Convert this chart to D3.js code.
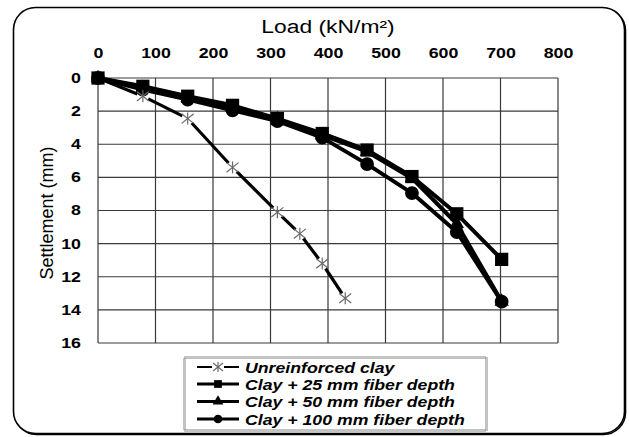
<!DOCTYPE html>
<html>
<head>
<meta charset="utf-8">
<script src="https://cdn.jsdelivr.net/npm/d3@7"></script>
<style>
  html, body { margin: 0; padding: 0; background: #fff; }
  svg { display: block; font-family: "Liberation Sans", Arial, sans-serif; }
</style>
</head>
<body>
<svg id="chart" width="629" height="437"></svg>
<script>
// Load (kN/m2) at each reading
const loads = [0, 78, 156, 234, 312, 390, 468, 546, 624, 702];
const loadsUnreinforced = [0, 78, 156, 234, 312, 351, 390, 430];

// Settlement (mm) for each test series
const settleUnreinforced = [0, 1.1, 2.45, 5.4, 8.1, 9.4, 11.2, 13.3];
const settle25 = [0, 0.5, 1.1, 1.65, 2.45, 3.35, 4.35, 5.95, 8.2, 10.95];
const settle50 = [0, 0.6, 1.2, 1.8, 2.5, 3.45, 4.45, 6.05, 8.8, 13.5];
const settle100 = [0, 0.7, 1.3, 1.95, 2.6, 3.6, 5.2, 6.95, 9.3, 13.5];

const seriesNames = [
  "Unreinforced clay",
  "Clay + 25 mm fiber depth",
  "Clay + 50 mm fiber depth",
  "Clay + 100 mm fiber depth"
];

const xTicks = [0, 100, 200, 300, 400, 500, 600, 700, 800];
const yTicks = [0, 2, 4, 6, 8, 10, 12, 14, 16];

// the lettering is set wide: glyphs are stretched horizontally
const WIDE = 1.27;
function widen(sel, f) {
  sel.each(function () {
    const w = this.getComputedTextLength();
    d3.select(this).attr("textLength", w * f).attr("lengthAdjust", "spacingAndGlyphs");
  });
}

const svg = d3.select("#chart");

const x = d3.scaleLinear().domain([0, 800]).range([98, 558]);
const y = d3.scaleLinear().domain([0, 16]).range([78, 343]);

// outer rounded frame with a slightly heavier lower-right edge
svg.append("rect")
  .attr("x", 14.5).attr("y", 8.5)
  .attr("width", 611).attr("height", 426)
  .attr("rx", 22).attr("ry", 22)
  .attr("fill", "none").attr("stroke", "#000").attr("stroke-width", 1.6);
svg.append("rect")
  .attr("x", 13.5).attr("y", 7.5)
  .attr("width", 611).attr("height", 426)
  .attr("rx", 22).attr("ry", 22)
  .attr("fill", "#fff").attr("stroke", "#000").attr("stroke-width", 1.6);

// grid
const grid = svg.append("g").attr("stroke", "#3a3a3a").attr("stroke-width", 1.2);
grid.selectAll("line.v").data(xTicks).join("line")
  .attr("class", "v")
  .attr("x1", d => x(d)).attr("x2", d => x(d))
  .attr("y1", y(0)).attr("y2", y(16));
grid.selectAll("line.h").data(yTicks).join("line")
  .attr("class", "h")
  .attr("x1", x(0)).attr("x2", x(800))
  .attr("y1", d => y(d)).attr("y2", d => y(d));

// axes
const xAxis = svg.append("g")
  .attr("transform", "translate(0,62)")
  .call(d3.axisTop(x).tickValues(xTicks).tickSize(0).tickPadding(4).tickFormat(d3.format("d")));
const yAxis = svg.append("g")
  .attr("transform", `translate(${x(0)},0)`)
  .call(d3.axisLeft(y).tickValues(yTicks).tickSize(0).tickPadding(17).tickFormat(d3.format("d")));
[xAxis, yAxis].forEach(g => {
  g.select(".domain").remove();
  g.selectAll("text")
    .attr("fill", "#000")
    .style("font-family", "'Liberation Sans', Arial, sans-serif")
    .style("font-size", "14px")
    .style("font-weight", "bold")
    .call(widen, WIDE);
});

// axis titles
svg.append("text")
  .attr("x", 328).attr("y", 33)
  .attr("text-anchor", "middle")
  .style("font-size", "18px")
  .text("Load (kN/m²)")
  .call(widen, WIDE);
svg.append("text")
  .attr("transform", "translate(53,213) rotate(-90)")
  .attr("text-anchor", "middle")
  .style("font-size", "18px")
  .text("Settlement (mm)");

// marker helpers
const sym = {
  square: d3.symbol().type(d3.symbolSquare),
  triangle: d3.symbol().type(d3.symbolTriangle),
  circle: d3.symbol().type(d3.symbolCircle)
};
function asterisk(g, cx, cy, r) {
  const a = g.append("g").attr("stroke", "#6a6a6a").attr("stroke-width", 1.2)
    .attr("transform", `translate(${cx},${cy})`);
  a.append("line").attr("x1", 0).attr("x2", 0).attr("y1", -r).attr("y2", r);
  a.append("line").attr("x1", -r).attr("x2", r).attr("y1", -r * 0.8).attr("y2", r * 0.8);
  a.append("line").attr("x1", -r).attr("x2", r).attr("y1", r * 0.8).attr("y2", -r * 0.8);
}

const plot = svg.append("g");
const line = d3.line().x(d => x(d[0])).y(d => y(d[1]));

// reinforced series: triangles underneath, 25 mm squares on top
const reinforced = [
  { vals: settle50, shape: "triangle", size: 90 },
  { vals: settle100, shape: "circle", size: 150 },
  { vals: settle25, shape: "square", size: 175 }
];
reinforced.forEach(s => {
  const pts = loads.map((l, i) => [l, s.vals[i]]);
  plot.append("path").datum(pts)
    .attr("d", line)
    .attr("fill", "none").attr("stroke", "#000").attr("stroke-width", 4)
    .attr("stroke-linejoin", "round");
  plot.selectAll(null).data(pts).join("path")
    .attr("transform", d => `translate(${x(d[0])},${y(d[1])})`)
    .attr("d", sym[s.shape].size(s.size)())
    .attr("fill", "#000");
});

// unreinforced: segments broken around each asterisk marker
const ptsU = loadsUnreinforced.map((l, i) => [l, settleUnreinforced[i]]);
const gap = 6;
for (let i = 0; i < ptsU.length - 1; i++) {
  const x1 = x(ptsU[i][0]), y1 = y(ptsU[i][1]);
  const x2 = x(ptsU[i + 1][0]), y2 = y(ptsU[i + 1][1]);
  const len = Math.hypot(x2 - x1, y2 - y1);
  const ux = (x2 - x1) / len, uy = (y2 - y1) / len;
  const g0 = i === 0 ? 0 : gap;
  plot.append("line")
    .attr("x1", x1 + ux * g0).attr("y1", y1 + uy * g0)
    .attr("x2", x2 - ux * gap).attr("y2", y2 - uy * gap)
    .attr("stroke", "#000").attr("stroke-width", 3.2);
}
ptsU.slice(1).forEach(d => asterisk(plot, x(d[0]), y(d[1]), 6));

// legend
const legend = svg.append("g");
legend.append("rect")
  .attr("x", 184.5).attr("y", 357.5).attr("width", 302).attr("height", 73)
  .attr("fill", "#fff").attr("stroke", "#888").attr("stroke-width", 3)
  .attr("stroke-dasharray", "1,1");
const rowsY = [367, 384, 401.5, 419];
const shapes = [null, "square", "triangle", "circle"];
seriesNames.forEach((name, i) => {
  const ry = rowsY[i];
  legend.append("line")
    .attr("x1", 197).attr("x2", 239).attr("y1", ry).attr("y2", ry)
    .attr("stroke", "#000").attr("stroke-width", i === 0 ? 2.2 : 3);
  if (shapes[i]) {
    legend.append("path")
      .attr("transform", `translate(218,${ry})`)
      .attr("d", sym[shapes[i]].size(shapes[i] === "triangle" ? 50 : 60)())
      .attr("fill", "#000");
  } else {
    legend.append("rect").attr("x", 212).attr("y", ry - 6).attr("width", 12).attr("height", 12).attr("fill", "#fff");
    asterisk(legend, 218, ry, 5);
  }
  legend.append("text")
    .attr("x", 245).attr("y", ry + 5.5)
    .style("font-size", "14.5px").style("font-weight", "bold").style("font-style", "italic")
    .text(name)
    .call(widen, 1.22);
});
</script>
</body>
</html>
